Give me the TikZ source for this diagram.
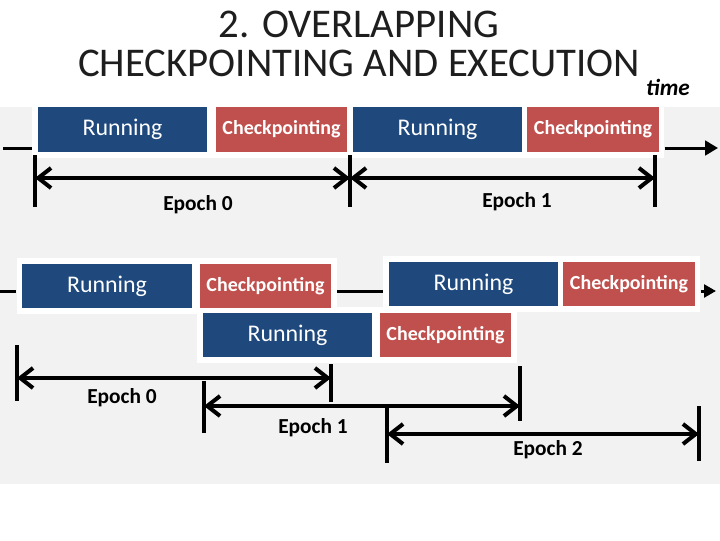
\documentclass[tikz,border=0pt]{standalone}
\usepackage{fontspec}
\setmainfont{Carlito}
\usetikzlibrary{arrows.meta, fit, backgrounds, positioning}
\definecolor{runblue}{RGB}{31,73,125}
\definecolor{ckptred}{RGB}{192,80,77}
\definecolor{bggray}{RGB}{242,242,242}
\definecolor{titlegray}{RGB}{30,30,30}
\tikzset{
  phase/.style={
    rectangle,
    inner sep=0pt,
    minimum height=1.11cm,
    text=white
  },
  runbox/.style={
    phase,
    fill=runblue,
    minimum width=4.225cm,
    font=\fontsize{17}{20}\selectfont
  },
  ckptbox/.style={
    phase,
    fill=ckptred,
    minimum width=3.275cm,
    font=\bfseries\fontsize{14.2}{16}\selectfont
  },
  whiteframe/.style={fill=white, inner sep=0.14cm},
  flowline/.style={line width=0.075cm},
  tickline/.style={line width=0.1cm},
  epocharrow/.style={
    {Straight Barb[length=0.32cm,width=0.5cm]}-{Straight Barb[length=0.32cm,width=0.5cm]},
    line width=0.1cm},
  epochlabel/.style={font=\bfseries\fontsize{15.2}{18}\selectfont}
}

\begin{document}
\begin{tikzpicture}[x=0.025cm, y=-0.025cm]
\useasboundingbox (0,0) rectangle (720,540);
\begin{scope}[on background layer]
  \fill[bggray] (0,107) rectangle (720,484);
\end{scope}

%% ---- title ----
\node[align=center, text=titlegray, font=\fontsize{29}{27.5}\selectfont] (title) at (359,44)
  {2. OVERLAPPING\\CHECKPOINTING AND EXECUTION};
\node[font=\bfseries\itshape\fontsize{16.5}{18}\selectfont] (time) at (668,87) {time};

%% ---- sequential row ----
\node[runbox]  (run1) at (122.5,129.5) {Running};
\node[ckptbox] (ckpt1) at (281.5,129.5) {Checkpointing};
\node[runbox]  (run2) at (437.5,129.5) {Running};
\node[ckptbox] (ckpt2) at (593,129.5) {Checkpointing};
\begin{scope}[on background layer]
  \node[whiteframe, fit=(run1)(ckpt2)] (seqframe) {};
\end{scope}

\coordinate (seqstart) at (3,148);
\coordinate (seqend)   at (718,148);
\draw[flowline] (seqstart) -- (seqstart -| seqframe.west);
\draw[flowline, -{Triangle[length=0.32cm,width=0.36cm]}] (seqframe.east |- seqend) -- (seqend);

%% ---- sequential epochs ----
\coordinate (s0) at (35,178);
\coordinate (s1) at (350,178);
\coordinate (s2) at (655,178);
\foreach \c in {s0,s1,s2}
  \draw[tickline] (\c) ++(0,-23) -- ++(0,52);
\draw[epocharrow] (s0) -- (s1);
\draw[epocharrow] (s1) -- (s2);
\node[epochlabel] (seqlab0) at (198,205) {Epoch 0};
\node[epochlabel] (seqlab1) at (517,202) {Epoch 1};

%% ---- overlapped rows ----
\node[runbox]  (runA)  at (107,286)   {Running};
\node[ckptbox] (ckptA) at (265.5,286) {Checkpointing};
\node[runbox]  (runB)  at (473.5,284) {Running};
\node[ckptbox] (ckptB) at (629,284)   {Checkpointing};
\node[runbox]  (runC)  at (287.5,335) {Running};
\node[ckptbox] (ckptC) at (445.5,335) {Checkpointing};
\begin{scope}[on background layer]
  \node[whiteframe, fit=(runA)(ckptA)] (frameA) {};
  \node[whiteframe, fit=(runB)(ckptB)] (frameB) {};
  \node[whiteframe, fit=(runC)(ckptC)] (frameC) {};
\end{scope}

\coordinate (ovstart) at (0,291);
\coordinate (ovend)   at (716,291);
\draw[flowline] (ovstart) -- (ovstart -| frameA.west);
\draw[flowline] (frameA.east |- ovstart) -- (frameB.west |- ovstart);
\draw[flowline, -{Triangle[length=0.3cm,width=0.32cm]}] (frameB.east |- ovend) -- (ovend);

%% ---- overlapped epochs ----
\coordinate (b0L) at (17,378);
\coordinate (b0R) at (331,378);
\coordinate (b1L) at (204,406);
\coordinate (b1R) at (520,406);
\coordinate (b2L) at (387,434);
\coordinate (b2R) at (699,434);
\draw[tickline] (b0L) ++(0,-33) -- ++(0,56);
\draw[tickline] (b0R) ++(0,-14) -- ++(0,38);
\draw[tickline] (b1L) ++(0,-25) -- ++(0,52);
\draw[tickline] (b1R) ++(0,-40) -- ++(0,55);
\draw[tickline] (b2L) ++(0,-26) -- ++(0,55);
\draw[tickline] (b2R) ++(0,-28) -- ++(0,55);
\draw[epocharrow] (b0L) -- (b0R);
\draw[epocharrow] (b1L) -- (b1R);
\draw[epocharrow] (b2L) -- (b2R);
\node[epochlabel] (ovlab0) at (122,398) {Epoch 0};
\node[epochlabel] (ovlab1) at (313,428) {Epoch 1};
\node[epochlabel] (ovlab2) at (548,450) {Epoch 2};

\end{tikzpicture}
\end{document}
